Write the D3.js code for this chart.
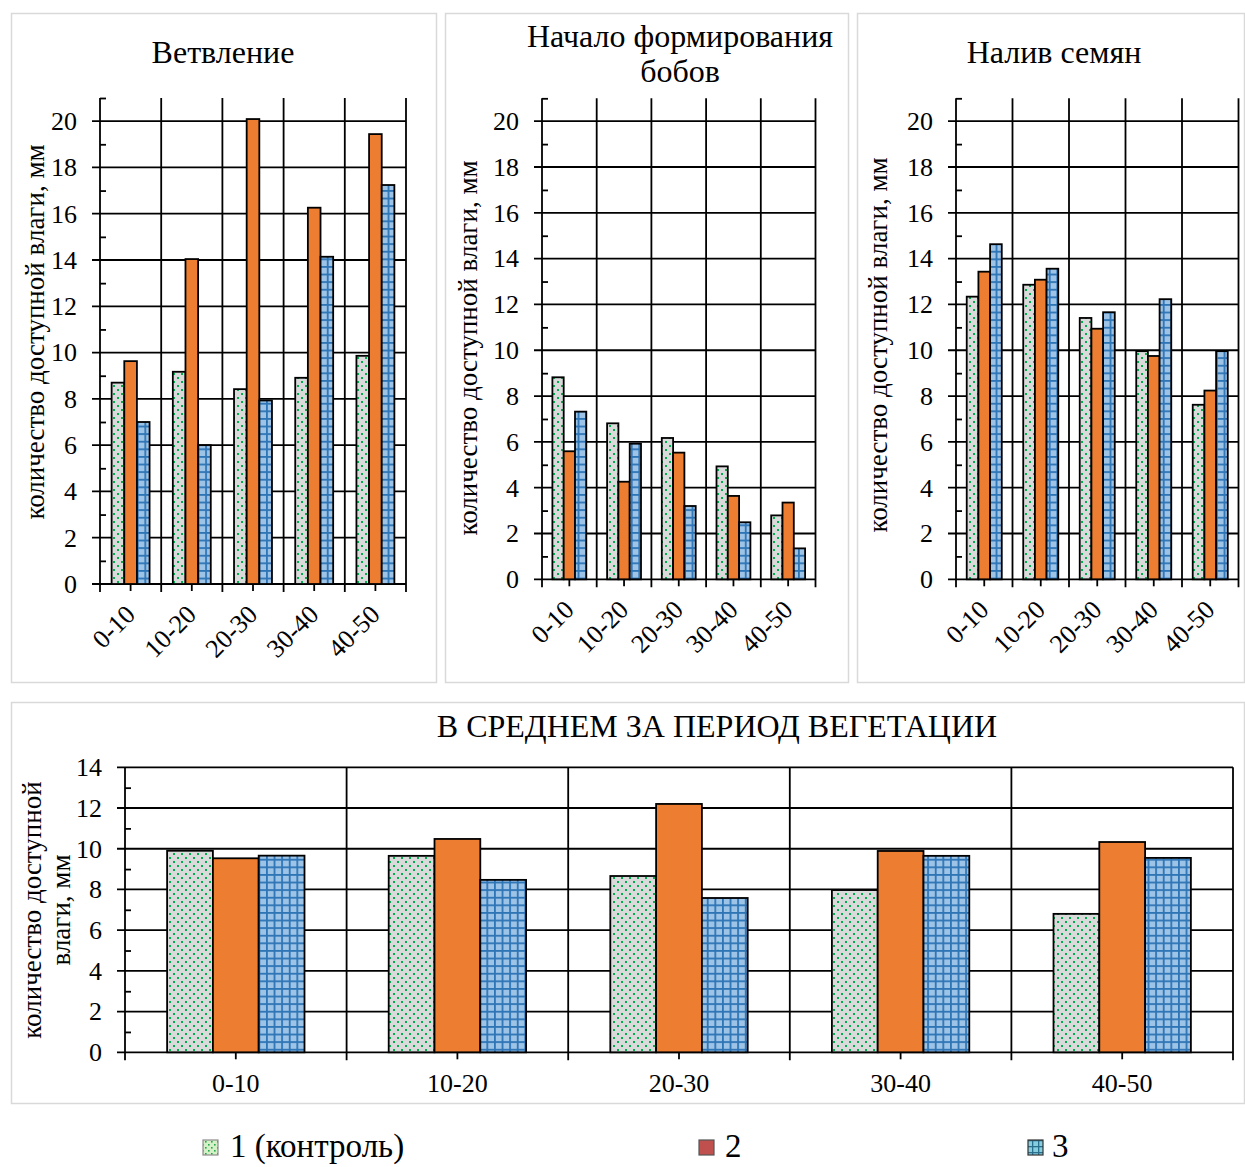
<!DOCTYPE html>
<html><head><meta charset="utf-8">
<script src="https://cdn.jsdelivr.net/npm/d3@7"></script>
<style>
body{margin:0;background:#fff}
svg{display:block}
text{font-family:"Liberation Serif","Times New Roman",serif;fill:#000}
</style>
</head><body>
<svg id="c" width="1245" height="1167"></svg>
<script>
// ---------- DATA ----------
const categories = ["0-10", "10-20", "20-30", "30-40", "40-50"];
const seriesNames = ["1 (контроль)", "2", "3"];
const panelTitles = [["Ветвление"], ["Начало формирования", "бобов"], ["Налив семян"], ["В СРЕДНЕМ ЗА ПЕРИОД ВЕГЕТАЦИИ"]];
const yTitle = "количество доступной влаги, мм";
const yTitleTwoLines = ["количество доступной", "влаги, мм"];
const ticksTop = [0, 2, 4, 6, 8, 10, 12, 14, 16, 18, 20];
const ticksBottom = [0, 2, 4, 6, 8, 10, 12, 14];

const vetv_s1 = [8.70, 9.17, 8.42, 8.91, 9.86];
const vetv_s2 = [9.63, 14.04, 20.09, 16.26, 19.44];
const vetv_s3 = [7.00, 6.00, 7.93, 14.14, 17.24];

const bob_s1 = [8.82, 6.81, 6.17, 4.93, 2.79];
const bob_s2 = [5.59, 4.26, 5.53, 3.64, 3.35];
const bob_s3 = [7.32, 5.92, 3.20, 2.49, 1.35];

const naliv_s1 = [12.34, 12.86, 11.41, 9.96, 7.62];
const naliv_s2 = [13.43, 13.08, 10.94, 9.75, 8.24];
const naliv_s3 = [14.63, 13.56, 11.66, 12.23, 9.96];

const avg_s1 = [9.90, 9.65, 8.66, 7.97, 6.80];
const avg_s2 = [9.53, 10.48, 12.20, 9.89, 10.33];
const avg_s3 = [9.66, 8.47, 7.58, 9.65, 9.55];

// ---------- SETUP ----------
const svg = d3.select("#c");
svg.append("rect").attr("width", 1245).attr("height", 1167).attr("fill", "#fff");
const defs = svg.append("defs");

function dotPattern(id, bg, dot, size, ds) {
  const p = defs.append("pattern").attr("id", id).attr("patternUnits", "userSpaceOnUse")
    .attr("width", size).attr("height", size);
  p.append("rect").attr("width", size).attr("height", size).attr("fill", bg);
  [[1, 1], [size / 2 + 1, size / 2 + 1]].forEach(([cx, cy]) =>
    p.append("rect").attr("x", cx).attr("y", cy).attr("width", ds).attr("height", ds).attr("fill", dot));
}
function gridPattern(id, bg, line, size, sw) {
  const p = defs.append("pattern").attr("id", id).attr("patternUnits", "userSpaceOnUse")
    .attr("width", size).attr("height", size);
  p.append("rect").attr("width", size).attr("height", size).attr("fill", bg);
  p.append("rect").attr("x", 0).attr("y", 0).attr("width", size).attr("height", sw).attr("fill", line);
  p.append("rect").attr("x", 0).attr("y", 0).attr("width", sw).attr("height", size).attr("fill", line);
}
dotPattern("dots", "#dadada", "#00b050", 8, 2);
gridPattern("grid", "#9dc3e6", "#2e75b6", 7.6, 1.8);
dotPattern("ldots", "#d5efc6", "#22a84a", 6, 1.6);
gridPattern("lgrid", "#86cde0", "#2a6f8c", 6, 1.3);

const fills = ["url(#dots)", "#ed7d31", "url(#grid)"];
const INK = "#000";

// panel frames
const frames = [
  [11, 13, 425, 669], [445, 13, 403, 669], [857, 13, 387, 669], [11, 702, 1233, 401]
];
svg.selectAll("rect.frame").data(frames).enter().append("rect").attr("class", "frame")
  .attr("x", d => d[0] + 0.5).attr("y", d => d[1] + 0.5).attr("width", d => d[2]).attr("height", d => d[3])
  .attr("fill", "none").attr("stroke", "#d9d9d9").attr("stroke-width", 1.5);

const panels = [
  { series: [vetv_s1, vetv_s2, vetv_s3], title: panelTitles[0], ymax: 21, ticks: ticksTop,
    x0: 100, x1: 406, yT: 98, y0: 584, titleX: 223, titleY: [62], ytX: 44, ytY: 332, ytLines: [yTitle], rotated: true },
  { series: [bob_s1, bob_s2, bob_s3], title: panelTitles[1], ymax: 21, ticks: ticksTop,
    x0: 542, x1: 815.5, yT: 98.3, y0: 579.3, titleX: 680, titleY: [46, 81], ytX: 477, ytY: 348, ytLines: [yTitle], rotated: true },
  { series: [naliv_s1, naliv_s2, naliv_s3], title: panelTitles[2], ymax: 21, ticks: ticksTop,
    x0: 956, x1: 1238.5, yT: 98.3, y0: 579.3, titleX: 1054, titleY: [62], ytX: 887, ytY: 345, ytLines: [yTitle], rotated: true },
  { series: [avg_s1, avg_s2, avg_s3], title: panelTitles[3], ymax: 14, ticks: ticksBottom,
    x0: 125, x1: 1233, yT: 767.3, y0: 1052.3, titleX: 717, titleY: [736], ytX: [41, 70], ytY: 910, ytLines: yTitleTwoLines, rotated: false }
];

function drawPanel(p) {
  const g = svg.append("g");
  const y = d3.scaleLinear().domain([0, p.ymax]).range([p.y0, p.yT]);
  const x = d3.scaleBand().domain(categories).range([p.x0, p.x1]).padding(0);
  const bw = x.bandwidth();
  const xs = d3.scaleBand().domain([0, 1, 2]).range([bw * 0.19, bw * 0.81]).padding(0);

  // horizontal gridlines (extend outside as major tick)
  g.append("g").selectAll("line").data(p.ticks).enter().append("line")
    .attr("x1", p.x0 - 8).attr("x2", p.x1).attr("y1", d => y(d)).attr("y2", d => y(d))
    .attr("stroke", INK).attr("stroke-width", 1.8);
  // vertical category boundaries
  const bounds = categories.map(c => x(c)).concat([p.x1]);
  g.append("g").selectAll("line").data(bounds).enter().append("line")
    .attr("x1", d => d).attr("x2", d => d).attr("y1", p.yT).attr("y2", p.y0 + 8)
    .attr("stroke", INK).attr("stroke-width", 1.8);

  // minor y ticks (inside)
  const minorAxis = d3.axisLeft(y).tickValues(d3.range(1, p.ymax + 0.01, 2)).tickSize(-6).tickFormat("");
  const ma = g.append("g").attr("transform", `translate(${p.x0},0)`).call(minorAxis);
  ma.select(".domain").remove();
  ma.selectAll("line").attr("stroke", INK).attr("stroke-width", 1.8);

  // y axis labels
  const yAxis = d3.axisLeft(y).tickValues(p.ticks).tickSize(8).tickPadding(15).tickSizeOuter(0);
  const ya = g.append("g").attr("transform", `translate(${p.x0},0)`).call(yAxis);
  ya.select(".domain").remove();
  ya.selectAll("line").remove();
  ya.selectAll("text").attr("font-size", 26).attr("fill", INK);

  // center ticks on x axis
  const xAxis = d3.axisBottom(x).tickSize(7).tickSizeOuter(0).tickFormat("");
  const xa = g.append("g").attr("transform", `translate(0,${p.y0})`).call(xAxis);
  xa.select(".domain").remove();
  xa.selectAll("line").attr("stroke", INK).attr("stroke-width", 1.8);

  // bars
  p.series.forEach((vals, si) => {
    g.append("g").selectAll("rect").data(vals).enter().append("rect")
      .attr("x", (d, i) => x(categories[i]) + xs(si))
      .attr("width", xs.bandwidth())
      .attr("y", d => y(d))
      .attr("height", d => y(0) - y(d))
      .attr("fill", fills[si]).attr("stroke", INK).attr("stroke-width", 1.8);
  });

  // x labels
  if (p.rotated) {
    g.append("g").selectAll("text").data(categories).enter().append("text")
      .attr("transform", d => `translate(${x(d) + bw / 2 + 6},${p.y0 + 32}) rotate(-45)`)
      .attr("text-anchor", "end").attr("font-size", 26).text(d => d);
  } else {
    g.append("g").selectAll("text").data(categories).enter().append("text")
      .attr("x", d => x(d) + bw / 2).attr("y", p.y0 + 40)
      .attr("text-anchor", "middle").attr("font-size", 26).text(d => d);
  }

  // title
  p.title.forEach((t, i) => {
    g.append("text").attr("x", p.titleX).attr("y", p.titleY[i] + 1).attr("text-anchor", "middle")
      .attr("font-size", 32).text(t);
  });

  // y title
  p.ytLines.forEach((t, i) => {
    const xx = Array.isArray(p.ytX) ? p.ytX[i] : p.ytX;
    g.append("text").attr("transform", `translate(${xx},${p.ytY}) rotate(-90)`)
      .attr("text-anchor", "middle").attr("font-size", 27).text(t);
  });
}
panels.forEach(drawPanel);

// legend
const legend = [
  { name: seriesNames[0], fill: "url(#ldots)", stroke: "#8c8c8c", sx: 203, tx: 230 },
  { name: seriesNames[1], fill: "#c0504d", stroke: "#555", sx: 699, tx: 725 },
  { name: seriesNames[2], fill: "url(#lgrid)", stroke: "#333", sx: 1028, tx: 1052 }
];
const lg = svg.append("g");
legend.forEach(l => {
  lg.append("rect").attr("x", l.sx).attr("y", 1140).attr("width", 15).attr("height", 15)
    .attr("fill", l.fill).attr("stroke", l.stroke).attr("stroke-width", 1.2);
  lg.append("text").attr("x", l.tx).attr("y", 1157).attr("font-size", 33).text(l.name);
});
</script>
</body></html>
